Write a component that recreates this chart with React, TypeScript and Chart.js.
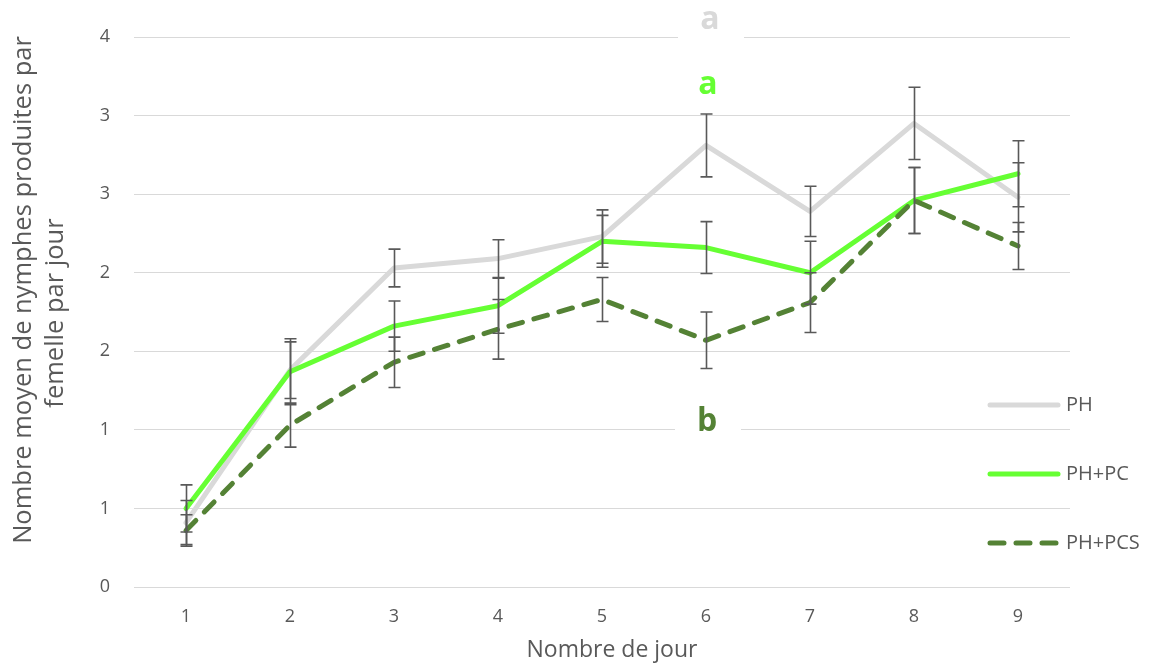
import React, { useEffect, useRef } from "react";
import { Chart, registerables } from "chart.js";

Chart.register(...registerables);

const days = ["1", "2", "3", "4", "5", "6", "7", "8", "9"];

const phValues = [0.41, 1.38, 2.03, 2.09, 2.23, 2.81, 2.39, 2.95, 2.48];
const phErrors = [0.14, 0.18, 0.12, 0.12, 0.17, 0.2, 0.16, 0.23, 0.22];

const pcValues = [0.5, 1.37, 1.66, 1.79, 2.2, 2.16, 2.0, 2.46, 2.63];
const pcErrors = [0.15, 0.21, 0.16, 0.175, 0.165, 0.165, 0.2, 0.21, 0.21];

const pcsValues = [0.36, 1.03, 1.43, 1.64, 1.83, 1.57, 1.81, 2.46, 2.17];
const pcsErrors = [0.1, 0.14, 0.16, 0.19, 0.14, 0.18, 0.19, 0.21, 0.15];

const seriesNames = ["PH", "PH+PC", "PH+PCS"];
const significanceLetters = ["a", "a", "b"];

const yMin = 0;
const yMax = 3.5;
const yStep = 0.5;

const xTitle = "Nombre de jour";
const yTitle = ["Nombre moyen de nymphes produites par", "femelle par jour"];

const FONT = "'Open Sans', sans-serif";
const TEXT = "#595959";
const GRID = "#d9d9d9";
const C_PH = "#d9d9d9";
const C_PC = "#66ff33";
const C_PCS = "#548235";

const errorBarPlugin = {
  id: "errorBars",
  afterDatasetsDraw(chart: any) {
    const ctx = chart.ctx;
    const ys = chart.scales.y;
    ctx.save();
    ctx.strokeStyle = "#595959";
    ctx.lineWidth = 1.6;
    chart.data.datasets.forEach((ds: any, i: number) => {
      const meta = chart.getDatasetMeta(i);
      meta.data.forEach((pt: any, j: number) => {
        const v = ds.data[j];
        const e = ds.errors[j];
        const x = Math.round(pt.x) + 0.5;
        const t = ys.getPixelForValue(v + e);
        const b = ys.getPixelForValue(v - e);
        ctx.beginPath();
        ctx.moveTo(x, t);
        ctx.lineTo(x, b);
        ctx.moveTo(x - 6, t);
        ctx.lineTo(x + 6, t);
        ctx.moveTo(x - 6, b);
        ctx.lineTo(x + 6, b);
        ctx.stroke();
      });
    });
    ctx.restore();
  },
};

const overlayPlugin = {
  id: "overlay",
  afterDraw(chart: any) {
    const ctx = chart.ctx;
    ctx.save();
    // axis titles
    ctx.fillStyle = TEXT;
    ctx.textAlign = "center";
    ctx.textBaseline = "middle";
    ctx.font = `23px ${FONT}`;
    ctx.fillText(xTitle, 612, 650);
    ctx.font = `25.5px ${FONT}`;
    const yTitlePos = [
      { x: 24, y: 290 },
      { x: 56, y: 313 },
    ];
    yTitle.forEach((line, i) => {
      ctx.save();
      ctx.translate(yTitlePos[i].x, yTitlePos[i].y);
      ctx.rotate(-Math.PI / 2);
      ctx.fillText(line, 0, 0);
      ctx.restore();
    });
    // significance letters
    const letters = [
      { t: significanceLetters[0], c: C_PH, x: 710, y: 20 },
      { t: significanceLetters[1], c: C_PC, x: 708, y: 85 },
      { t: significanceLetters[2], c: C_PCS, x: 707, y: 422 },
    ];
    letters.forEach((l) => {
      ctx.fillStyle = "#ffffff";
      ctx.fillRect(l.x - 32, l.y - 22, 66, 44);
      ctx.fillStyle = l.c;
      ctx.font = `bold 32px ${FONT}`;
      ctx.textAlign = "center";
      ctx.textBaseline = "middle";
      ctx.fillText(l.t, l.x, l.y);
    });
    // legend
    const ys = [405, 474, 543];
    chart.data.datasets.forEach((ds: any, i: number) => {
      const y = ys[i];
      ctx.beginPath();
      ctx.strokeStyle = ds.borderColor;
      ctx.lineWidth = 5;
      ctx.lineCap = "round";
      ctx.setLineDash(ds.borderDash || []);
      ctx.moveTo(990, y);
      ctx.lineTo(1058, y);
      ctx.stroke();
      ctx.setLineDash([]);
      ctx.fillStyle = TEXT;
      ctx.font = `20px ${FONT}`;
      ctx.textAlign = "left";
      ctx.textBaseline = "middle";
      ctx.fillText(ds.label, 1066, y);
    });
    ctx.restore();
  },
};

export default function App() {
  const ref = useRef<HTMLCanvasElement | null>(null);
  useEffect(() => {
    if (!ref.current) return;
    const chart = new Chart(ref.current, {
      type: "line",
      data: {
        labels: days,
        datasets: [
          {
            label: seriesNames[0],
            data: phValues,
            errors: phErrors,
            borderColor: C_PH,
            borderWidth: 5,
            pointRadius: 0,
            borderCapStyle: "round",
            borderJoinStyle: "round",
            order: 3,
          } as any,
          {
            label: seriesNames[1],
            data: pcValues,
            errors: pcErrors,
            borderColor: C_PC,
            borderWidth: 5,
            pointRadius: 0,
            borderCapStyle: "round",
            borderJoinStyle: "round",
            order: 2,
          } as any,
          {
            label: seriesNames[2],
            data: pcsValues,
            errors: pcsErrors,
            borderColor: C_PCS,
            borderWidth: 5,
            borderDash: [14, 12],
            pointRadius: 0,
            borderCapStyle: "round",
            borderJoinStyle: "round",
            order: 1,
          } as any,
        ],
      },
      options: {
        animation: false,
        responsive: true,
        maintainAspectRatio: false,
        layout: { padding: { top: 37, right: 82, left: 0, bottom: 0 } },
        plugins: {
          legend: { display: false },
          tooltip: { enabled: false },
        },
        scales: {
          x: {
            offset: true,
            grid: { display: false, drawTicks: false },
            border: { display: false },
            ticks: { color: TEXT, font: { family: FONT, size: 18 }, padding: 19 },
            afterFit: (s: any) => {
              s.height = 81;
            },
          },
          y: {
            min: yMin,
            max: yMax,
            grid: { color: GRID, lineWidth: 1, drawTicks: false },
            border: { display: false },
            ticks: {
              stepSize: yStep,
              color: TEXT,
              font: { family: FONT, size: 18 },
              padding: 24,
              callback: (v: any) => String(Math.round(Number(v))),
            },
            afterFit: (s: any) => {
              s.width = 134;
            },
          },
        },
      } as any,
      plugins: [errorBarPlugin, overlayPlugin],
    });
    return () => chart.destroy();
  }, []);
  return (
    <div style={{ position: "absolute", left: 0, top: 0, width: 1152, height: 668 }}>
      <canvas ref={ref} />
    </div>
  );
}
